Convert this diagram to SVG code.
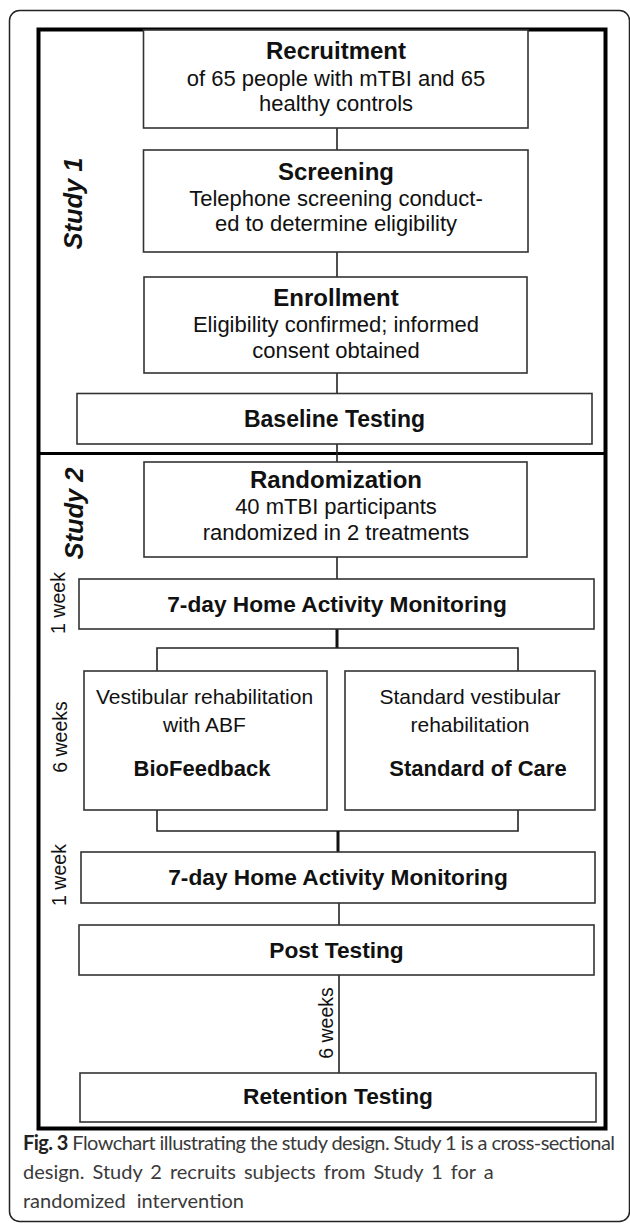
<svg xmlns="http://www.w3.org/2000/svg" width="630" height="1223" viewBox="0 0 630 1223">
<style>
.box{fill:#fff;stroke:#333;stroke-width:1.6}
.con{fill:none;stroke:#222;stroke-width:1.6}
.thick{fill:none;stroke:#111;stroke-width:3}
.t{font-family:"Liberation Sans",Arial,sans-serif;fill:#111;text-anchor:middle}
.h{font-weight:bold}
.side{font-family:"Liberation Sans",Arial,sans-serif;fill:#111;text-anchor:middle}
.cap{font-family:Lato,"Open Sans",sans-serif;font-size:20px;fill:#3a3a3a}
</style>
<rect x="9.5" y="10.5" width="620" height="1211" rx="10" fill="#fff" stroke="#222" stroke-width="1.5"/>
<rect x="38.5" y="29.5" width="567" height="1099" fill="none" stroke="#000" stroke-width="4"/>
<line x1="38.5" y1="453.5" x2="605.5" y2="453.5" stroke="#000" stroke-width="3"/>

<g id="connectors">
<line class="con" x1="337" y1="128" x2="337" y2="150"/>
<line class="con" x1="337" y1="252" x2="337" y2="277"/>
<line class="con" x1="337" y1="373" x2="337" y2="394"/>
<line class="con" x1="337" y1="444" x2="337" y2="462"/>
<line class="con" x1="337" y1="557" x2="337" y2="579"/>
<line class="thick" x1="337" y1="629" x2="337" y2="648"/>
<path class="con" d="M157 671V648H518V671"/>
<path class="con" d="M157 810V831H518V810"/>
<line class="thick" x1="338" y1="831" x2="338" y2="852"/>
<line class="con" x1="339" y1="903" x2="339" y2="925"/>
<line class="con" x1="339" y1="975" x2="339" y2="1073"/>
</g>

<g id="recruitment">
<rect class="box" x="143.5" y="30" width="384.5" height="98"/>
<text class="t h" x="336" y="59" font-size="24">Recruitment</text>
<text class="t" x="336" y="86" font-size="22">of 65 people with mTBI and 65</text>
<text class="t" x="336" y="111" font-size="22">healthy controls</text>
</g>
<g id="screening">
<rect class="box" x="143.5" y="150" width="384.5" height="102"/>
<text class="t h" x="336" y="180" font-size="24">Screening</text>
<text class="t" x="336" y="206" font-size="22">Telephone screening conduct-</text>
<text class="t" x="336" y="231" font-size="22">ed to determine eligibility</text>
</g>
<g id="enrollment">
<rect class="box" x="144" y="277" width="383" height="96"/>
<text class="t h" x="336" y="306" font-size="24">Enrollment</text>
<text class="t" x="336" y="332" font-size="22">Eligibility confirmed; informed</text>
<text class="t" x="336" y="358" font-size="22">consent obtained</text>
</g>
<g id="baseline">
<rect class="box" x="77" y="393.5" width="515" height="50.5"/>
<text class="t h" x="334.5" y="427" font-size="23">Baseline Testing</text>
</g>
<g id="randomization">
<rect class="box" x="144" y="462" width="383" height="95"/>
<text class="t h" x="336" y="488" font-size="24">Randomization</text>
<text class="t" x="336" y="514" font-size="22">40 mTBI participants</text>
<text class="t" x="336" y="540" font-size="22">randomized in 2 treatments</text>
</g>
<g id="monitoring1">
<rect class="box" x="79" y="579" width="515" height="50"/>
<text class="t h" x="337" y="612" font-size="22.7">7-day Home Activity Monitoring</text>
</g>
<g id="biofeedback">
<rect class="box" x="84" y="671" width="243" height="139"/>
<text class="t" x="204.5" y="704" font-size="21">Vestibular rehabilitation</text>
<text class="t" x="204.5" y="732" font-size="21">with ABF</text>
<text class="t h" x="202" y="776" font-size="22">BioFeedback</text>
</g>
<g id="standard">
<rect class="box" x="345" y="671" width="250" height="139"/>
<text class="t" x="470" y="704" font-size="21">Standard vestibular</text>
<text class="t" x="470" y="732" font-size="21">rehabilitation</text>
<text class="t h" x="478" y="776" font-size="22">Standard of Care</text>
</g>
<g id="monitoring2">
<rect class="box" x="81" y="852" width="514" height="51"/>
<text class="t h" x="338" y="885" font-size="22.7">7-day Home Activity Monitoring</text>
</g>
<g id="post">
<rect class="box" x="79" y="925" width="515" height="50"/>
<text class="t h" x="336.5" y="958" font-size="22.7">Post Testing</text>
</g>
<g id="retention">
<rect class="box" x="80" y="1073" width="516" height="49"/>
<text class="t h" x="338" y="1104" font-size="22.7">Retention Testing</text>
</g>

<g id="labels">
<text class="side" transform="translate(82 203.5) rotate(-90)" font-size="25.5" font-weight="bold" font-style="italic">Study 1</text>
<text class="side" transform="translate(83 513.5) rotate(-90)" font-size="25.5" font-weight="bold" font-style="italic">Study 2</text>
<text class="side" transform="translate(65 603) rotate(-90)" font-size="19.5">1 week</text>
<text class="side" transform="translate(67 737) rotate(-90)" font-size="19.5">6 weeks</text>
<text class="side" transform="translate(66 875) rotate(-90)" font-size="19.5">1 week</text>
<text class="side" transform="translate(333 1023) rotate(-90)" font-size="19.5">6 weeks</text>
</g>

<g id="caption">
<text class="cap" x="23" y="1150" textLength="592" lengthAdjust="spacing"><tspan font-weight="bold" fill="#222">Fig. 3</tspan> Flowchart illustrating the study design. Study 1 is a cross-sectional</text>
<text class="cap" x="23" y="1179" word-spacing="2.9">design. Study 2 recruits subjects from Study 1 for a</text>
<text class="cap" x="23" y="1208" word-spacing="6">randomized intervention</text>
</g>
</svg>
